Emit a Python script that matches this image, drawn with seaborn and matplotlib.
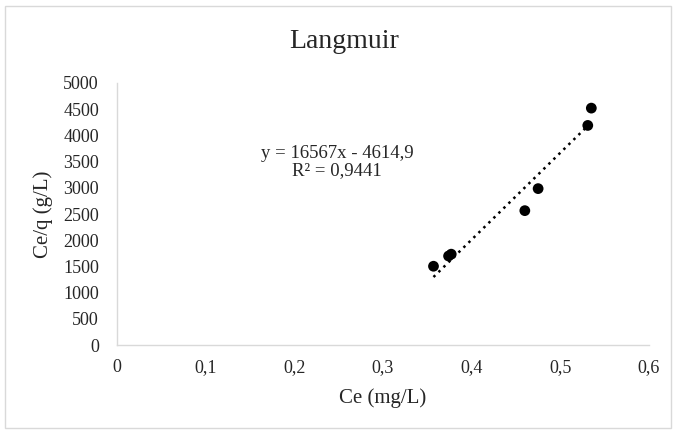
"""
Langmuir isotherm linear plot
"""
import numpy as np
import pandas as pd
import matplotlib
matplotlib.use('Agg')
import matplotlib.pyplot as plt
from matplotlib.patches import Rectangle
import seaborn as sns

# Data
ce = [0.357, 0.374, 0.377, 0.460, 0.475, 0.531, 0.535]
ce_over_q = [1505, 1700, 1735, 2565, 2985, 4190, 4520]

# Excel trendline
slope = 16567
intercept = -4614.9
equation_text = "y = 16567x - 4614,9\nR² = 0,9441"

x_ticks = [0, 0.1, 0.2, 0.3, 0.4, 0.5, 0.6]
x_tick_labels = ["0", "0,1", "0,2", "0,3", "0,4", "0,5", "0,6"]
y_ticks = [0, 500, 1000, 1500, 2000, 2500, 3000, 3500, 4000, 4500, 5000]
y_tick_labels = [str(v) for v in y_ticks]

sns.set_style("white")
plt.rcParams['font.family'] = ['Liberation Serif', 'DejaVu Serif']

df = pd.DataFrame({'Ce': ce, 'Ceq': ce_over_q})

fig = plt.figure(figsize=(6.76, 4.32), dpi=100)
ax = fig.add_axes([0.173, 0.201, 0.787, 0.607])

# Trendline
x_line = np.array([min(ce), max(ce)])
y_line = slope * x_line + intercept
ax.plot(x_line, y_line, color='black', lw=1.8, linestyle=(0, (1, 1.8)), zorder=2)

sns.scatterplot(data=df, x='Ce', y='Ceq', color='black', s=60,
                edgecolor='none', ax=ax, zorder=3)

ax.set_xlim(0, 0.6)
ax.set_ylim(0, 5000)
ax.set_xticks(x_ticks)
ax.set_xticklabels(x_tick_labels)
ax.set_yticks(y_ticks)
ax.set_yticklabels(y_tick_labels)
ax.tick_params(axis='both', length=0, labelsize=13, colors='#262626')
ax.tick_params(axis='y', pad=13)
ax.tick_params(axis='x', pad=10)

for side in ['top', 'right']:
    ax.spines[side].set_visible(False)
for side in ['left', 'bottom']:
    ax.spines[side].set_color('#d9d9d9')
    ax.spines[side].set_linewidth(1.0)

ax.set_xlabel('Ce (mg/L)', fontsize=15, color='#262626', labelpad=9)
ax.set_ylabel('Ce/q (g/L)', fontsize=15, color='#262626', labelpad=7)
fig.text(0.509, 1 - 42 / 432, 'Langmuir', ha='center', va='center',
         fontsize=20, color='#262626')

ax.text(0.248, 3490, equation_text, ha='center', va='center',
        fontsize=13.5, color='#262626', linespacing=1.0)

# Chart border
fig.patches.append(Rectangle((0.008, 0.01), 0.984, 0.975, transform=fig.transFigure,
                             fill=False, edgecolor='#d9d9d9', lw=1.0))

plt.savefig('out.png', dpi=100)
plt.close()
